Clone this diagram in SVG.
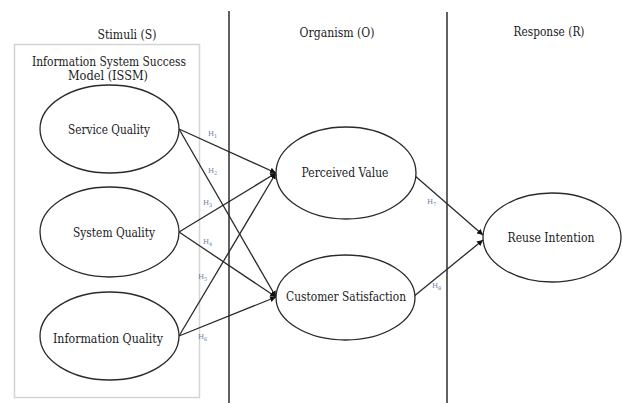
<svg xmlns="http://www.w3.org/2000/svg" width="622" height="403" viewBox="0 0 622 403">
<defs>
<style>
.t{font-family:'DejaVu Serif',serif;font-size:12px;fill:#1a1a1a;text-anchor:middle}
.n{fill:#fff;stroke:#2a2a2a;stroke-width:1.3}
.c{stroke:#2a2a2a;stroke-width:1.3;fill:none}
.h{font-family:'DejaVu Serif',serif;font-size:7px;fill:#6a7ca3}
.hs{font-size:5px}
</style>
<marker id="ah" viewBox="0 0 10 10" refX="10" refY="5" markerWidth="6" markerHeight="6" orient="auto" markerUnits="userSpaceOnUse">
<path d="M0,0 L10,5 L0,10 z" fill="#111"/>
</marker>
</defs>
<rect width="622" height="403" fill="#fff"/>
<g id="frame">
<rect x="14.5" y="44.5" width="185" height="353" fill="none" stroke="#d4d4d4" stroke-width="1.5"/>
<line x1="229" y1="11" x2="229" y2="403" stroke="#3a3a3a" stroke-width="1.6"/>
<line x1="447" y1="12" x2="447" y2="403" stroke="#3a3a3a" stroke-width="1.6"/>
<text class="t" x="127" y="39" textLength="59" lengthAdjust="spacingAndGlyphs">Stimuli (S)</text>
<text class="t" x="337" y="37" textLength="75" lengthAdjust="spacingAndGlyphs">Organism (O)</text>
<text class="t" x="549" y="36" textLength="71" lengthAdjust="spacingAndGlyphs">Response (R)</text>
<text class="t" x="109" y="66" textLength="154" lengthAdjust="spacingAndGlyphs">Information System Success</text>
<text class="t" x="108" y="80" textLength="80" lengthAdjust="spacingAndGlyphs">Model (ISSM)</text>
</g>
<g id="connectors">
<line class="c" x1="179" y1="129" x2="276" y2="173" marker-end="url(#ah)"/>
<line class="c" x1="179" y1="129" x2="276" y2="297" marker-end="url(#ah)"/>
<line class="c" x1="179" y1="232" x2="276" y2="173" marker-end="url(#ah)"/>
<line class="c" x1="179" y1="232" x2="276" y2="297" marker-end="url(#ah)"/>
<line class="c" x1="179" y1="336" x2="276" y2="173" marker-end="url(#ah)"/>
<line class="c" x1="179" y1="336" x2="276" y2="297" marker-end="url(#ah)"/>
<line class="c" x1="414" y1="175" x2="483" y2="235" marker-end="url(#ah)"/>
<line class="c" x1="413" y1="297" x2="483" y2="240" marker-end="url(#ah)"/>
<text class="h" x="208" y="136">H<tspan class="hs" dy="1.5">1</tspan></text>
<text class="h" x="208" y="173">H<tspan class="hs" dy="1.5">2</tspan></text>
<text class="h" x="203" y="205">H<tspan class="hs" dy="1.5">3</tspan></text>
<text class="h" x="203" y="244">H<tspan class="hs" dy="1.5">4</tspan></text>
<text class="h" x="198" y="279">H<tspan class="hs" dy="1.5">5</tspan></text>
<text class="h" x="198" y="339">H<tspan class="hs" dy="1.5">6</tspan></text>
<text class="h" x="427" y="204">H<tspan class="hs" dy="1.5">7</tspan></text>
<text class="h" x="432" y="288">H<tspan class="hs" dy="1.5">8</tspan></text>
</g>
<g id="service-quality">
<ellipse class="n" cx="109.5" cy="129" rx="69.5" ry="44"/>
<text class="t" x="109" y="133.5" textLength="82" lengthAdjust="spacingAndGlyphs">Service Quality</text>
</g>
<g id="system-quality">
<ellipse class="n" cx="109.5" cy="232" rx="69.5" ry="45"/>
<text class="t" x="114" y="236.5" textLength="82" lengthAdjust="spacingAndGlyphs">System Quality</text>
</g>
<g id="information-quality">
<ellipse class="n" cx="109.5" cy="336" rx="69.5" ry="44"/>
<text class="t" x="108" y="343" textLength="110" lengthAdjust="spacingAndGlyphs">Information Quality</text>
</g>
<g id="perceived-value">
<ellipse class="n" cx="346" cy="173" rx="70" ry="46"/>
<text class="t" x="345" y="176.5" textLength="87" lengthAdjust="spacingAndGlyphs">Perceived Value</text>
</g>
<g id="customer-satisfaction">
<ellipse class="n" cx="345.5" cy="297.5" rx="69.5" ry="42.5"/>
<text class="t" x="346" y="300.5" textLength="120" lengthAdjust="spacingAndGlyphs">Customer Satisfaction</text>
</g>
<g id="reuse-intention">
<ellipse class="n" cx="552" cy="237.5" rx="69" ry="44.5"/>
<text class="t" x="551" y="241.5" textLength="87" lengthAdjust="spacingAndGlyphs">Reuse Intention</text>
</g>
</svg>
